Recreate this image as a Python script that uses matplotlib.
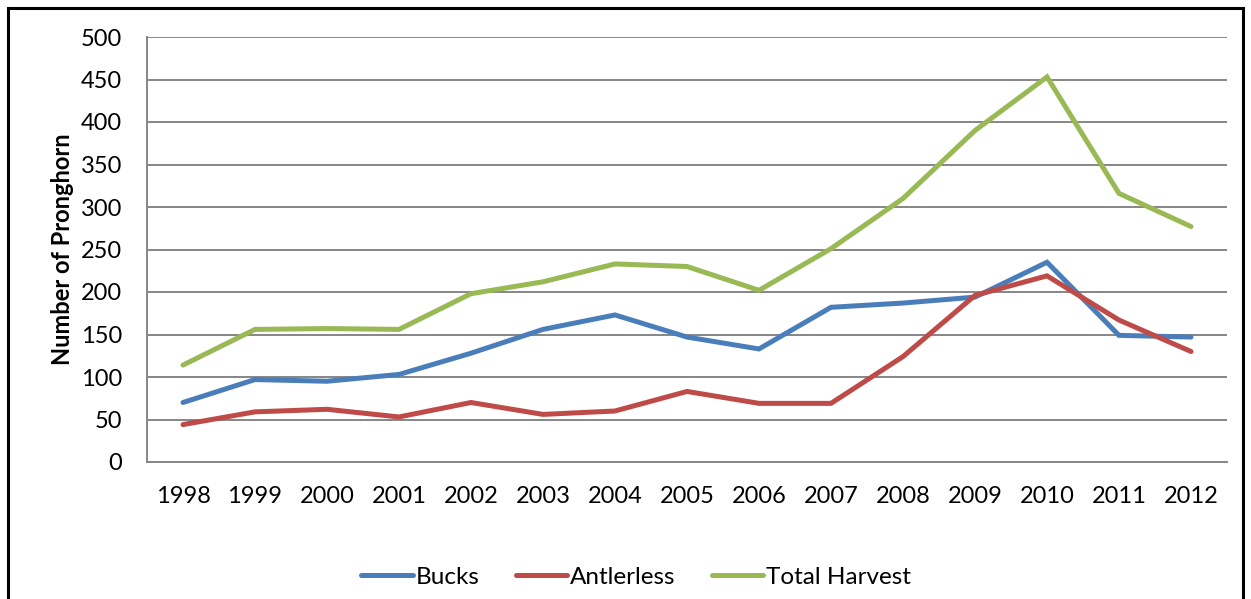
import matplotlib
matplotlib.use("Agg")
import matplotlib.pyplot as plt
from matplotlib.patches import Rectangle

plt.rcParams['font.family'] = ['Lato', 'DejaVu Sans']

years = ['1998', '1999', '2000', '2001', '2002', '2003', '2004', '2005',
         '2006', '2007', '2008', '2009', '2010', '2011', '2012']
bucks = [70, 97, 95, 103, 128, 156, 173, 147, 133, 182, 187, 194, 235, 149, 147]
antlerless = [44, 59, 62, 53, 70, 56, 60, 83, 69, 69, 124, 196, 219, 167, 130]
total_harvest = [114, 156, 157, 156, 198, 212, 233, 230, 202, 251, 310, 390, 453, 316, 277]

series = [
    ('Bucks', bucks, '#4a7ebb'),
    ('Antlerless', antlerless, '#be4b48'),
    ('Total Harvest', total_harvest, '#98b954'),
]

W, H = 1251, 599
fig = plt.figure(figsize=(W / 100, H / 100), dpi=100)
ax = fig.add_axes([147 / W, 1 - 462 / H, (1227 - 147) / W, (462 - 37) / H])

x = list(range(len(years)))
for name, vals, color in series:
    ax.plot(x, vals, color=color, lw=3.6, label=name, solid_capstyle='round',
            solid_joinstyle='miter')

ax.set_xlim(-0.5, len(years) - 0.5)
ax.set_ylim(0, 500)
ax.set_yticks(range(0, 501, 50))
ax.set_xticks(x)
ax.set_xticklabels(years)
ax.tick_params(axis='both', length=0, labelsize=17, colors='black')
ax.tick_params(axis='x', pad=17)
ax.tick_params(axis='y', pad=18)
ax.yaxis.grid(True, color='#868686', lw=1.4)
ax.set_axisbelow(True)
for side in ['top', 'right']:
    ax.spines[side].set_visible(False)
for side in ['left', 'bottom']:
    ax.spines[side].set_color('#868686')
    ax.spines[side].set_linewidth(1.4)

ax.set_ylabel('Number of Pronghorn', fontsize=17, fontweight='bold', labelpad=5)

fig.legend(loc='center', bbox_to_anchor=(636 / W, 1 - 577 / H), ncol=3,
           frameon=False, fontsize=17.5, handlelength=2.1, handletextpad=0.12,
           columnspacing=1.5)

# outer chart border
fig.patches.append(Rectangle((8 / W, -0.1), (1243 - 8) / W, 1.1 - 8 / H,
                             transform=fig.transFigure, fill=False,
                             edgecolor='black', lw=2.2))

fig.savefig('out.png', dpi=100)
